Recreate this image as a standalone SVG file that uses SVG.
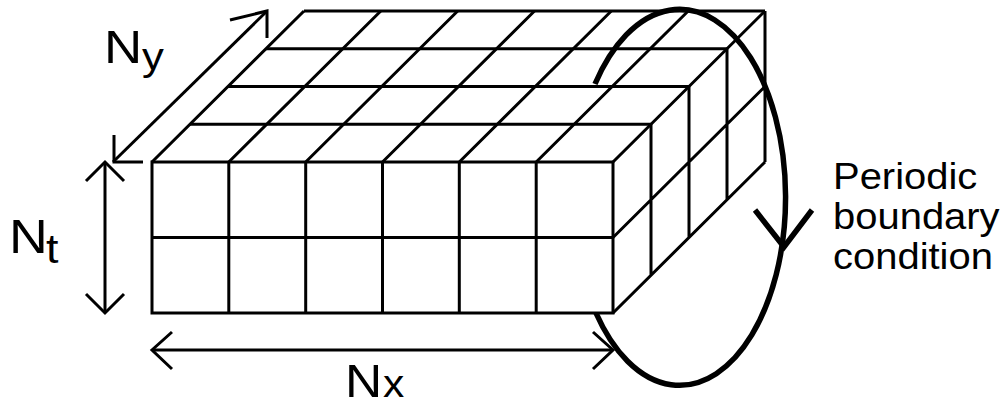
<svg xmlns="http://www.w3.org/2000/svg" width="1005" height="407" viewBox="0 0 1005 407">
<style>
.g{fill:none;stroke:#000;stroke-width:3;stroke-linecap:butt}
.a{fill:none;stroke:#000;stroke-width:3;stroke-linecap:butt;stroke-linejoin:miter}
.e{fill:none;stroke:#000;stroke-width:5.5}
.t{font-family:"Liberation Sans",Arial,sans-serif;fill:#000}
</style>
<rect width="1005" height="407" fill="#fff"/>
<g id="lattice" class="g">
<rect x="152" y="162" width="461" height="151"/>
<path d="M152 237.5H613M228.8 162V313M305.7 162V313M382.5 162V313M459.3 162V313M536.2 162V313"/>
<path d="M190 124.25H651M228 86.5H689M266 48.75H727M304 11H765"/>
<path d="M152 162L304 11M228.8 162L380.8 11M305.7 162L457.7 11M382.5 162L534.5 11M459.3 162L611.3 11M536.2 162L688.2 11M613 162L765 11"/>
<path d="M651 124.25V275.25M689 86.5V237.5M727 48.75V199.75M765 11V162M613 237.5L765 86.5M613 313L765 162"/>
</g>
<g id="connectors">
<g id="ny-arrow" class="a">
<path d="M113 162L267 11"/>
<path d="M230 20L267 11L267 38"/>
<path d="M114 135L114 162L143 162"/>
</g>
<g id="nt-arrow" class="a">
<path d="M105 162V313"/>
<path d="M86 181L105 162L124 181"/>
<path d="M86 294L105 313L124 294"/>
</g>
<g id="nx-arrow" class="a">
<path d="M152 350H613"/>
<path d="M172 332L152 350L172 369"/>
<path d="M593 332L613 350L593 369"/>
</g>
<g id="periodic-loop">
<path class="e" d="M595 84A106 188 0 1 1 596 313"/>
<path class="e" d="M755 210L784 247L812 210"/>
</g>
</g>
<g id="label-ny" class="t">
<text transform="translate(104,63) scale(1.15,1)" font-size="46">N</text>
<text transform="translate(142,70) scale(1.15,1)" font-size="38">y</text>
</g>
<g id="label-nt" class="t">
<text transform="translate(9,253) scale(1.12,1)" font-size="48">N</text>
<text transform="translate(46,263) scale(1.12,1)" font-size="40">t</text>
</g>
<g id="label-nx" class="t">
<text transform="translate(345,397) scale(1.12,1)" font-size="46">N</text>
<text transform="translate(383,397) scale(1.12,1)" font-size="38">x</text>
</g>
<g id="label-pbc" class="t" font-size="37">
<text transform="translate(833,189) scale(1.08,1)">Periodic</text>
<text transform="translate(833,229) scale(1.08,1)">boundary</text>
<text transform="translate(833,269) scale(1.08,1)">condition</text>
</g>
</svg>
